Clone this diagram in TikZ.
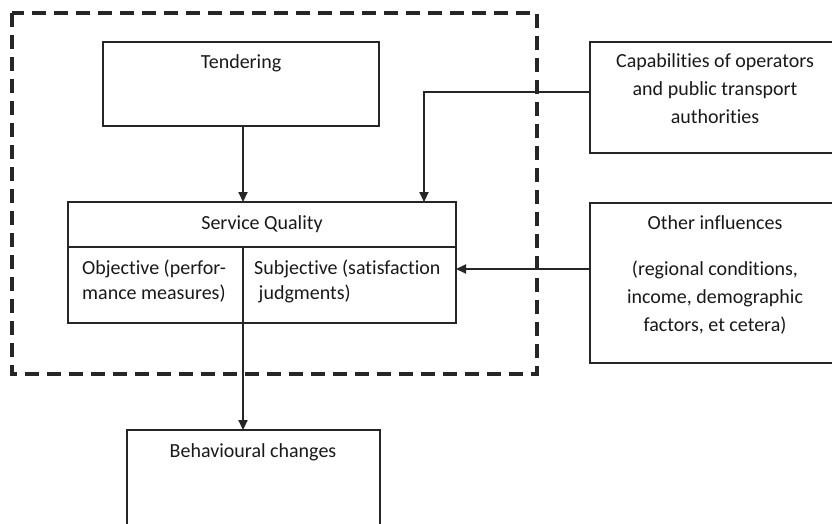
\documentclass[tikz,border=0pt]{standalone}
\usepackage{fontspec}
\setmainfont[Ligatures=NoCommon,RawFeature={-liga;-clig;-calt;-dlig}]{Carlito}
\usetikzlibrary{arrows.meta}
\begin{document}
\begin{tikzpicture}[x=1pt,y=-1pt,
  box/.style={draw=black!85,line width=1.1pt,inner sep=0pt,outer sep=0pt},
  txt/.style={inner sep=0pt,align=center,font=\fontsize{20}{28}\selectfont,text=black!90},
  conn/.style={line width=2.2pt,draw=black!85,-{Triangle[length=10pt,width=9pt]}},
  frame/.style={line width=3.2pt,draw=black!85,dash pattern=on 14pt off 8pt}]
\useasboundingbox (0,0) rectangle (832,524);
% dashed frame
\draw[frame] (12,13) rectangle (537,374);
% Tendering
\node[box,anchor=north west,minimum width=276pt,minimum height=84pt] (tend) at (103,42) {};
\node[txt,anchor=base] (tendT) at (241,69) {Tendering};
% Service quality
\node[box,anchor=north west,minimum width=388pt,minimum height=121pt] (sq) at (68,202) {};
\coordinate (sqL) at (68,247);
\coordinate (sqR) at (456,247);
\draw[box] (sqL) -- (sqR);
\coordinate (sqM) at (243,247);
\draw[box] (sqM) -- (sq.south -| sqM);
\node[txt,anchor=base] (sqT) at (262,229) {Service Quality};
\node[txt,anchor=base west,align=left,font=\fontsize{20}{25}\selectfont] (objT) at (82,299) {Objective (perfor-\\mance measures)};
\node[txt,anchor=base west,align=left,font=\fontsize{20}{25}\selectfont] (subT) at (254,299) {Subjec\kern0pt tive (satisfac\kern0pt tion\\\ judgments)};
% Capabilities
\node[box,anchor=north west,minimum width=250pt,minimum height=111pt] (cap) at (590,42) {};
\node[txt,anchor=base] (capT) at (715,124) {Capabili\kern0pt ties of operators\\and public transport\\authori\kern0pt ties};
% Other influences
\node[box,anchor=north west,minimum width=250pt,minimum height=160pt] (oth) at (590,203) {};
\node[txt,anchor=base] (othT) at (715,229) {Other influences};
\node[txt,anchor=base] (othT2) at (715,331) {(regional condi\kern0pt tions,\\income, demographic\\factors, et cetera)};
% Behavioural
\node[anchor=north west,minimum width=253pt,minimum height=110pt,inner sep=0pt,outer sep=0pt] (beh) at (127,430) {};
\draw[box] (beh.south west) -- (beh.north west) -- (beh.north east) -- (beh.south east);
\node[txt,anchor=base] (behT) at (253,457) {Behavioural changes};
% connectors
\draw[conn] (tend.south -| sqM) -- (sq.north -| sqM);
\coordinate (capTurn) at (424,92);
\draw[conn] (cap.west |- capTurn) -- (capTurn) -- (sq.north -| capTurn);
\coordinate (othY) at (0,269);
\draw[conn] (oth.west |- othY) -- (sq.east |- othY);
\draw[conn] (sq.south -| sqM) -- (beh.north -| sqM);
\end{tikzpicture}
\end{document}
